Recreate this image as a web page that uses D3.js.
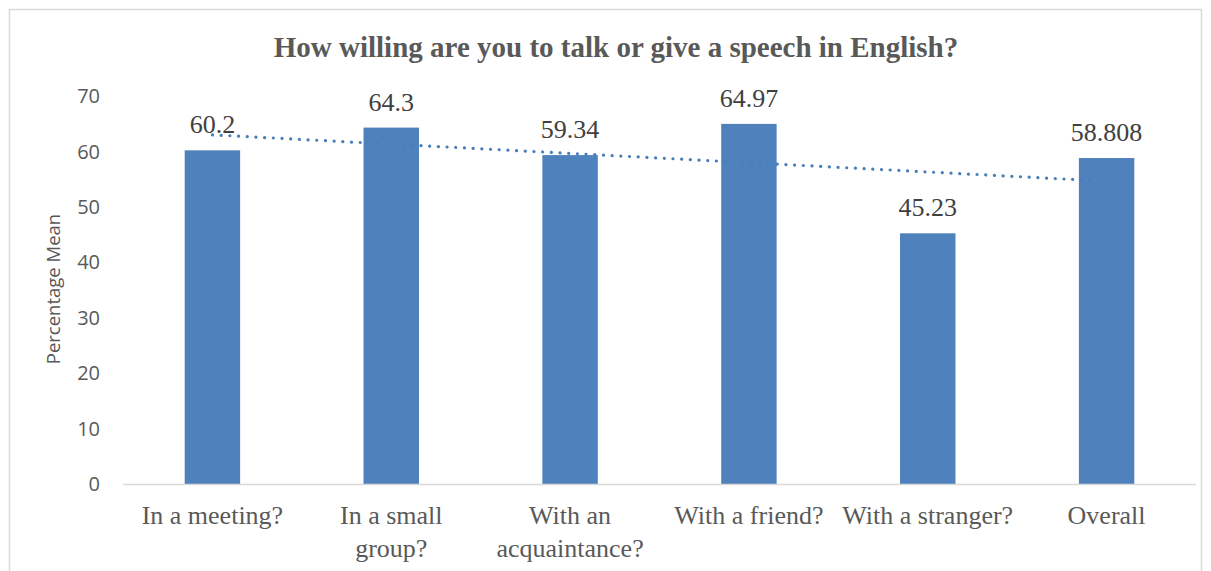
<!DOCTYPE html>
<html>
<head>
<meta charset="utf-8">
<script src="https://cdn.jsdelivr.net/npm/d3@7"></script>
<style>
  body { margin: 0; background: #fff; }
  svg { display: block; }
</style>
</head>
<body>
<svg width="1211" height="571"></svg>
<script>
var categories = ["In a meeting?", "In a small group?", "With an acquaintance?", "With a friend?", "With a stranger?", "Overall"];
var catLines = [["In a meeting?"], ["In a small", "group?"], ["With an", "acquaintance?"], ["With a friend?"], ["With a stranger?"], ["Overall"]];
var values = [60.2, 64.3, 59.34, 64.97, 45.23, 58.808];
var yTicks = [0, 10, 20, 30, 40, 50, 60, 70];

(function() {
  var svg = d3.select("svg");
  var serif = "'Liberation Serif', 'Times New Roman', serif";
  var sans = "'Open Sans', 'Liberation Sans', sans-serif";

  // chart frame
  svg.append("rect")
    .attr("x", 9.5).attr("y", 9.5)
    .attr("width", 1192).attr("height", 600)
    .attr("fill", "none").attr("stroke", "#d9d9d9").attr("stroke-width", 1.5);

  var plotL = 123, plotR = 1196, plotT = 96, plotB = 484;

  var x = d3.scaleBand().domain(categories).range([plotL, plotR]).paddingInner(0.69).paddingOuter(0.345);
  var y = d3.scaleLinear().domain([0, 70]).range([plotB, plotT]);

  // title
  svg.append("text")
    .attr("x", 616).attr("y", 57)
    .attr("text-anchor", "middle")
    .style("font-family", serif).style("font-weight", "bold")
    .style("font-size", "29px").attr("fill", "#595959")
    .text("How willing are you to talk or give a speech in English?");

  // y axis labels
  svg.selectAll("text.ytick")
    .data(yTicks).enter().append("text")
    .attr("class", "ytick")
    .attr("x", 100).attr("y", function(d) { return y(d); })
    .attr("dy", "0.36em")
    .attr("text-anchor", "end")
    .style("font-family", sans).style("font-size", "20px")
    .attr("fill", "#595959")
    .text(function(d) { return d; });

  svg.append("text")
    .attr("transform", "translate(60,289) rotate(-90)")
    .attr("text-anchor", "middle")
    .style("font-family", sans).style("font-size", "18.5px")
    .attr("fill", "#595959")
    .text("Percentage Mean");

  // bars
  svg.selectAll("rect.bars")
    .data(values).enter().append("rect")
    .classed("bars", true)
    .attr("x", function(d, i) { return x(categories[i]); })
    .attr("y", function(d) { return y(d); })
    .attr("width", x.bandwidth())
    .attr("height", function(d) { return y(0) - y(d); })
    .attr("fill", "#4f81bd");

  // x axis line
  svg.append("line")
    .attr("x1", plotL).attr("x2", plotR)
    .attr("y1", plotB + 0.5).attr("y2", plotB + 0.5)
    .attr("stroke", "#d9d9d9").attr("stroke-width", 1.5);

  // category labels
  catLines.forEach(function(lines, i) {
    var t = svg.append("text")
      .attr("text-anchor", "middle")
      .style("font-family", serif).style("font-size", "26px")
      .attr("fill", "#595959");
    lines.forEach(function(s, j) {
      t.append("tspan")
        .attr("x", x(categories[i]) + x.bandwidth() / 2)
        .attr("y", 524 + j * 33)
        .text(s);
    });
  });

  // linear trendline
  var n = values.length;
  var mx = (n + 1) / 2;
  var my = d3.mean(values);
  var sxy = d3.sum(values, function(v, i) { return (i + 1 - mx) * (v - my); });
  var sxx = d3.sum(values, function(v, i) { return (i + 1 - mx) * (i + 1 - mx); });
  var slope = sxy / sxx;
  var trend = [1, n].map(function(k) { return [x(categories[k - 1]) + x.bandwidth() / 2, y(my + slope * (k - mx))]; });

  svg.append("path")
    .attr("d", d3.line()(trend))
    .attr("fill", "none")
    .attr("stroke", "#4a7ebb")
    .attr("stroke-width", 3.2)
    .attr("stroke-linecap", "round")
    .attr("stroke-dasharray", "0.1 8.6");

  // data labels
  svg.selectAll("text.val")
    .data(values).enter().append("text")
    .attr("class", "val")
    .attr("x", function(d, i) { return x(categories[i]) + x.bandwidth() / 2; })
    .attr("y", function(d) { return y(d) - 17; })
    .attr("text-anchor", "middle")
    .style("font-family", serif).style("font-size", "26px")
    .attr("fill", "#404040")
    .text(function(d) { return d; });
})();
</script>
</body>
</html>
